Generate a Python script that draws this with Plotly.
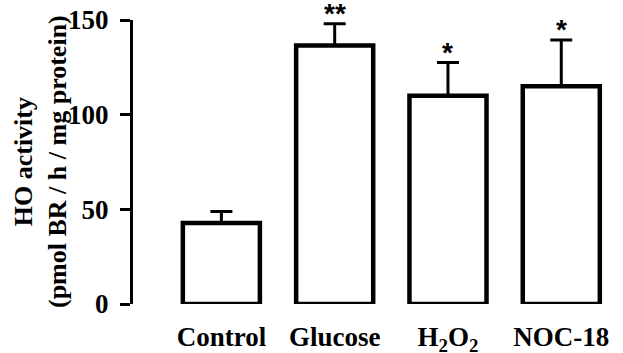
import plotly.graph_objects as go

categories = ["Control", "Glucose", "H<sub>2</sub>O<sub>2</sub>", "NOC-18"]
means = [42.8, 136.5, 110.0, 115.0]
errors = [6.0, 11.5, 17.5, 24.5]
stars = ["", "**", "*", "*"]
y_ticks = [0, 50, 100, 150]

W, H = 623, 353
ml, mr, mt, mb = 133, 13, 20, 49

FONT = "Liberation Serif"

fig = go.Figure()
fig.add_trace(go.Bar(
    x=list(range(len(categories))),
    y=means,
    width=0.68,
    marker=dict(color="white", line=dict(color="black", width=4.5)),
    error_y=dict(type="data", array=errors, arrayminus=[0] * len(errors),
                 symmetric=False, color="black", thickness=3, width=11),
    cliponaxis=False,
    showlegend=False,
    hoverinfo="skip",
))

for i, (m, e, s) in enumerate(zip(means, errors, stars)):
    if s:
        fig.add_annotation(x=i, y=m + e, xref="x", yref="y", text="<b>" + s + "</b>",
                           showarrow=False, yanchor="bottom", yshift=-7,
                           font=dict(family="Liberation Sans", size=28, color="black"))

# y-axis title as rotated annotation
fig.add_annotation(
    x=(40 - ml) / (W - ml - mr), y=0.5, xref="paper", yref="paper",
    text="<b>HO activity<br>(pmol BR / h / mg protein)</b>",
    textangle=-90, showarrow=False, xanchor="center", yanchor="middle",
    font=dict(family=FONT, size=26, color="black"),
)

fig.update_layout(
    width=W, height=H,
    margin=dict(l=ml, r=mr, t=mt, b=mb),
    paper_bgcolor="white", plot_bgcolor="white",
    font=dict(family=FONT, size=27, color="black"),
)
fig.update_xaxes(
    range=[-0.78, 3.43], automargin=False,
    tickmode="array", tickvals=list(range(len(categories))),
    ticktext=["<b>" + c + "</b>" for c in categories],
    showline=False, showgrid=False, zeroline=False,
    ticks="outside", ticklen=9, tickcolor="rgba(0,0,0,0)",
    tickfont=dict(family=FONT, size=27, color="black"),
)
fig.update_yaxes(
    range=[0, 150], automargin=False,
    tickmode="array", tickvals=y_ticks,
    ticktext=["<b>%d</b>" % v for v in y_ticks],
    showline=True, linecolor="black", linewidth=3,
    showgrid=False, zeroline=False,
    ticks="outside", ticklen=10, tickwidth=3, tickcolor="black",
    ticklabelstandoff=6,
    tickfont=dict(family=FONT, size=27, color="black"),
)

fig.write_html("out.html", config={"displayModeBar": False},
               post_script="document.body.style.margin='0';document.body.style.overflow='hidden';")
